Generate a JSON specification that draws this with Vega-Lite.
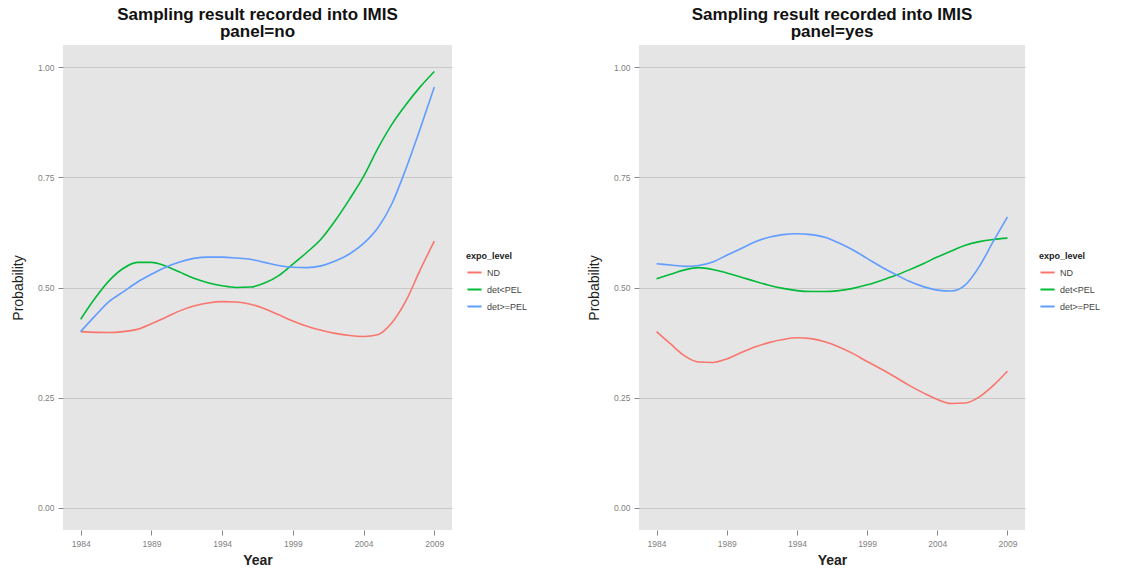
{
  "$schema": "https://vega.github.io/schema/vega-lite/v6.json",
  "background": "white",
  "padding": {"left": 11, "top": 6, "right": 5, "bottom": 2},
  "config": {
    "font": "Liberation Sans",
    "view": {"fill": "#E5E5E5", "stroke": null},
    "axis": {
      "domain": false,
      "tickColor": "#888888",
      "tickSize": 5,
      "labelColor": "#7F7F7F",
      "labelFontSize": 8.5,
      "labelPadding": 4,
      "titleFontSize": 14,
      "titleColor": "#222222",
      "titleFontWeight": "normal"
    },
    "axisY": {"grid": true, "gridColor": "#C8C8C8", "gridWidth": 1, "titlePadding": 12},
    "axisX": {"grid": false, "titleFontWeight": "bold", "titlePadding": 6},
    "legend": {
      "titleFontSize": 9,
      "titleFontWeight": "bold",
      "titleColor": "#222222",
      "titlePadding": 3,
      "labelFontSize": 9,
      "labelColor": "#444444",
      "symbolType": "stroke",
      "symbolStrokeWidth": 2,
      "symbolSize": 200,
      "rowPadding": 3
    },
    "title": {"fontSize": 17, "fontWeight": "bold", "color": "#111111", "anchor": "middle", "offset": 4, "lineHeight": 17}
  },
  "datasets": {
    "curves": [
      {"panel": "no", "expo_level": "ND", "year": 1984, "prob": 0.400},
      {"panel": "no", "expo_level": "ND", "year": 1986, "prob": 0.398},
      {"panel": "no", "expo_level": "ND", "year": 1987, "prob": 0.400},
      {"panel": "no", "expo_level": "ND", "year": 1988, "prob": 0.405},
      {"panel": "no", "expo_level": "ND", "year": 1989, "prob": 0.418},
      {"panel": "no", "expo_level": "ND", "year": 1990, "prob": 0.432},
      {"panel": "no", "expo_level": "ND", "year": 1991, "prob": 0.447},
      {"panel": "no", "expo_level": "ND", "year": 1992, "prob": 0.458},
      {"panel": "no", "expo_level": "ND", "year": 1993, "prob": 0.465},
      {"panel": "no", "expo_level": "ND", "year": 1994, "prob": 0.468},
      {"panel": "no", "expo_level": "ND", "year": 1995, "prob": 0.467},
      {"panel": "no", "expo_level": "ND", "year": 1996, "prob": 0.462},
      {"panel": "no", "expo_level": "ND", "year": 1997, "prob": 0.452},
      {"panel": "no", "expo_level": "ND", "year": 1998, "prob": 0.438},
      {"panel": "no", "expo_level": "ND", "year": 1999, "prob": 0.424},
      {"panel": "no", "expo_level": "ND", "year": 2000, "prob": 0.412},
      {"panel": "no", "expo_level": "ND", "year": 2001, "prob": 0.403},
      {"panel": "no", "expo_level": "ND", "year": 2002, "prob": 0.396},
      {"panel": "no", "expo_level": "ND", "year": 2003, "prob": 0.391},
      {"panel": "no", "expo_level": "ND", "year": 2004, "prob": 0.389},
      {"panel": "no", "expo_level": "ND", "year": 2005, "prob": 0.393},
      {"panel": "no", "expo_level": "ND", "year": 2006, "prob": 0.420},
      {"panel": "no", "expo_level": "ND", "year": 2007, "prob": 0.470},
      {"panel": "no", "expo_level": "ND", "year": 2008, "prob": 0.540},
      {"panel": "no", "expo_level": "ND", "year": 2009, "prob": 0.605},
      {"panel": "no", "expo_level": "det<PEL", "year": 1984, "prob": 0.428},
      {"panel": "no", "expo_level": "det<PEL", "year": 1985, "prob": 0.475},
      {"panel": "no", "expo_level": "det<PEL", "year": 1986, "prob": 0.515},
      {"panel": "no", "expo_level": "det<PEL", "year": 1987, "prob": 0.543},
      {"panel": "no", "expo_level": "det<PEL", "year": 1988, "prob": 0.557},
      {"panel": "no", "expo_level": "det<PEL", "year": 1989, "prob": 0.557},
      {"panel": "no", "expo_level": "det<PEL", "year": 1990, "prob": 0.549},
      {"panel": "no", "expo_level": "det<PEL", "year": 1991, "prob": 0.535},
      {"panel": "no", "expo_level": "det<PEL", "year": 1992, "prob": 0.521},
      {"panel": "no", "expo_level": "det<PEL", "year": 1993, "prob": 0.511},
      {"panel": "no", "expo_level": "det<PEL", "year": 1994, "prob": 0.504},
      {"panel": "no", "expo_level": "det<PEL", "year": 1995, "prob": 0.500},
      {"panel": "no", "expo_level": "det<PEL", "year": 1996, "prob": 0.501},
      {"panel": "no", "expo_level": "det<PEL", "year": 1997, "prob": 0.510},
      {"panel": "no", "expo_level": "det<PEL", "year": 1998, "prob": 0.527},
      {"panel": "no", "expo_level": "det<PEL", "year": 1999, "prob": 0.553},
      {"panel": "no", "expo_level": "det<PEL", "year": 2000, "prob": 0.580},
      {"panel": "no", "expo_level": "det<PEL", "year": 2001, "prob": 0.610},
      {"panel": "no", "expo_level": "det<PEL", "year": 2002, "prob": 0.652},
      {"panel": "no", "expo_level": "det<PEL", "year": 2003, "prob": 0.700},
      {"panel": "no", "expo_level": "det<PEL", "year": 2004, "prob": 0.752},
      {"panel": "no", "expo_level": "det<PEL", "year": 2005, "prob": 0.815},
      {"panel": "no", "expo_level": "det<PEL", "year": 2006, "prob": 0.870},
      {"panel": "no", "expo_level": "det<PEL", "year": 2007, "prob": 0.915},
      {"panel": "no", "expo_level": "det<PEL", "year": 2008, "prob": 0.955},
      {"panel": "no", "expo_level": "det<PEL", "year": 2009, "prob": 0.990},
      {"panel": "no", "expo_level": "det>=PEL", "year": 1984, "prob": 0.400},
      {"panel": "no", "expo_level": "det>=PEL", "year": 1985, "prob": 0.435},
      {"panel": "no", "expo_level": "det>=PEL", "year": 1986, "prob": 0.468},
      {"panel": "no", "expo_level": "det>=PEL", "year": 1987, "prob": 0.490},
      {"panel": "no", "expo_level": "det>=PEL", "year": 1988, "prob": 0.512},
      {"panel": "no", "expo_level": "det>=PEL", "year": 1989, "prob": 0.530},
      {"panel": "no", "expo_level": "det>=PEL", "year": 1990, "prob": 0.546},
      {"panel": "no", "expo_level": "det>=PEL", "year": 1991, "prob": 0.558},
      {"panel": "no", "expo_level": "det>=PEL", "year": 1992, "prob": 0.566},
      {"panel": "no", "expo_level": "det>=PEL", "year": 1993, "prob": 0.569},
      {"panel": "no", "expo_level": "det>=PEL", "year": 1994, "prob": 0.569},
      {"panel": "no", "expo_level": "det>=PEL", "year": 1995, "prob": 0.567},
      {"panel": "no", "expo_level": "det>=PEL", "year": 1996, "prob": 0.564},
      {"panel": "no", "expo_level": "det>=PEL", "year": 1997, "prob": 0.557},
      {"panel": "no", "expo_level": "det>=PEL", "year": 1998, "prob": 0.550},
      {"panel": "no", "expo_level": "det>=PEL", "year": 1999, "prob": 0.546},
      {"panel": "no", "expo_level": "det>=PEL", "year": 2000, "prob": 0.545},
      {"panel": "no", "expo_level": "det>=PEL", "year": 2001, "prob": 0.549},
      {"panel": "no", "expo_level": "det>=PEL", "year": 2002, "prob": 0.560},
      {"panel": "no", "expo_level": "det>=PEL", "year": 2003, "prob": 0.576},
      {"panel": "no", "expo_level": "det>=PEL", "year": 2004, "prob": 0.600},
      {"panel": "no", "expo_level": "det>=PEL", "year": 2005, "prob": 0.635},
      {"panel": "no", "expo_level": "det>=PEL", "year": 2006, "prob": 0.690},
      {"panel": "no", "expo_level": "det>=PEL", "year": 2007, "prob": 0.770},
      {"panel": "no", "expo_level": "det>=PEL", "year": 2008, "prob": 0.860},
      {"panel": "no", "expo_level": "det>=PEL", "year": 2009, "prob": 0.955},
      {"panel": "yes", "expo_level": "ND", "year": 1984, "prob": 0.400},
      {"panel": "yes", "expo_level": "ND", "year": 1985, "prob": 0.372},
      {"panel": "yes", "expo_level": "ND", "year": 1986, "prob": 0.345},
      {"panel": "yes", "expo_level": "ND", "year": 1987, "prob": 0.331},
      {"panel": "yes", "expo_level": "ND", "year": 1988, "prob": 0.330},
      {"panel": "yes", "expo_level": "ND", "year": 1989, "prob": 0.338},
      {"panel": "yes", "expo_level": "ND", "year": 1990, "prob": 0.352},
      {"panel": "yes", "expo_level": "ND", "year": 1991, "prob": 0.365},
      {"panel": "yes", "expo_level": "ND", "year": 1992, "prob": 0.375},
      {"panel": "yes", "expo_level": "ND", "year": 1993, "prob": 0.382},
      {"panel": "yes", "expo_level": "ND", "year": 1994, "prob": 0.386},
      {"panel": "yes", "expo_level": "ND", "year": 1995, "prob": 0.384},
      {"panel": "yes", "expo_level": "ND", "year": 1996, "prob": 0.377},
      {"panel": "yes", "expo_level": "ND", "year": 1997, "prob": 0.365},
      {"panel": "yes", "expo_level": "ND", "year": 1998, "prob": 0.350},
      {"panel": "yes", "expo_level": "ND", "year": 1999, "prob": 0.332},
      {"panel": "yes", "expo_level": "ND", "year": 2000, "prob": 0.315},
      {"panel": "yes", "expo_level": "ND", "year": 2001, "prob": 0.297},
      {"panel": "yes", "expo_level": "ND", "year": 2002, "prob": 0.278},
      {"panel": "yes", "expo_level": "ND", "year": 2003, "prob": 0.261},
      {"panel": "yes", "expo_level": "ND", "year": 2004, "prob": 0.246},
      {"panel": "yes", "expo_level": "ND", "year": 2005, "prob": 0.237},
      {"panel": "yes", "expo_level": "ND", "year": 2006, "prob": 0.238},
      {"panel": "yes", "expo_level": "ND", "year": 2007, "prob": 0.252},
      {"panel": "yes", "expo_level": "ND", "year": 2008, "prob": 0.278},
      {"panel": "yes", "expo_level": "ND", "year": 2009, "prob": 0.310},
      {"panel": "yes", "expo_level": "det<PEL", "year": 1984, "prob": 0.520},
      {"panel": "yes", "expo_level": "det<PEL", "year": 1985, "prob": 0.530},
      {"panel": "yes", "expo_level": "det<PEL", "year": 1986, "prob": 0.540},
      {"panel": "yes", "expo_level": "det<PEL", "year": 1987, "prob": 0.545},
      {"panel": "yes", "expo_level": "det<PEL", "year": 1988, "prob": 0.541},
      {"panel": "yes", "expo_level": "det<PEL", "year": 1989, "prob": 0.533},
      {"panel": "yes", "expo_level": "det<PEL", "year": 1990, "prob": 0.524},
      {"panel": "yes", "expo_level": "det<PEL", "year": 1991, "prob": 0.514},
      {"panel": "yes", "expo_level": "det<PEL", "year": 1992, "prob": 0.505},
      {"panel": "yes", "expo_level": "det<PEL", "year": 1993, "prob": 0.498},
      {"panel": "yes", "expo_level": "det<PEL", "year": 1994, "prob": 0.493},
      {"panel": "yes", "expo_level": "det<PEL", "year": 1995, "prob": 0.491},
      {"panel": "yes", "expo_level": "det<PEL", "year": 1996, "prob": 0.491},
      {"panel": "yes", "expo_level": "det<PEL", "year": 1997, "prob": 0.493},
      {"panel": "yes", "expo_level": "det<PEL", "year": 1998, "prob": 0.498},
      {"panel": "yes", "expo_level": "det<PEL", "year": 1999, "prob": 0.506},
      {"panel": "yes", "expo_level": "det<PEL", "year": 2000, "prob": 0.516},
      {"panel": "yes", "expo_level": "det<PEL", "year": 2001, "prob": 0.527},
      {"panel": "yes", "expo_level": "det<PEL", "year": 2002, "prob": 0.540},
      {"panel": "yes", "expo_level": "det<PEL", "year": 2003, "prob": 0.554},
      {"panel": "yes", "expo_level": "det<PEL", "year": 2004, "prob": 0.569},
      {"panel": "yes", "expo_level": "det<PEL", "year": 2005, "prob": 0.583},
      {"panel": "yes", "expo_level": "det<PEL", "year": 2006, "prob": 0.596},
      {"panel": "yes", "expo_level": "det<PEL", "year": 2007, "prob": 0.604},
      {"panel": "yes", "expo_level": "det<PEL", "year": 2008, "prob": 0.609},
      {"panel": "yes", "expo_level": "det<PEL", "year": 2009, "prob": 0.612},
      {"panel": "yes", "expo_level": "det>=PEL", "year": 1984, "prob": 0.554},
      {"panel": "yes", "expo_level": "det>=PEL", "year": 1985, "prob": 0.551},
      {"panel": "yes", "expo_level": "det>=PEL", "year": 1986, "prob": 0.548},
      {"panel": "yes", "expo_level": "det>=PEL", "year": 1987, "prob": 0.550},
      {"panel": "yes", "expo_level": "det>=PEL", "year": 1988, "prob": 0.558},
      {"panel": "yes", "expo_level": "det>=PEL", "year": 1989, "prob": 0.573},
      {"panel": "yes", "expo_level": "det>=PEL", "year": 1990, "prob": 0.588},
      {"panel": "yes", "expo_level": "det>=PEL", "year": 1991, "prob": 0.603},
      {"panel": "yes", "expo_level": "det>=PEL", "year": 1992, "prob": 0.614},
      {"panel": "yes", "expo_level": "det>=PEL", "year": 1993, "prob": 0.620},
      {"panel": "yes", "expo_level": "det>=PEL", "year": 1994, "prob": 0.622},
      {"panel": "yes", "expo_level": "det>=PEL", "year": 1995, "prob": 0.620},
      {"panel": "yes", "expo_level": "det>=PEL", "year": 1996, "prob": 0.614},
      {"panel": "yes", "expo_level": "det>=PEL", "year": 1997, "prob": 0.601},
      {"panel": "yes", "expo_level": "det>=PEL", "year": 1998, "prob": 0.585},
      {"panel": "yes", "expo_level": "det>=PEL", "year": 1999, "prob": 0.566},
      {"panel": "yes", "expo_level": "det>=PEL", "year": 2000, "prob": 0.547},
      {"panel": "yes", "expo_level": "det>=PEL", "year": 2001, "prob": 0.530},
      {"panel": "yes", "expo_level": "det>=PEL", "year": 2002, "prob": 0.514},
      {"panel": "yes", "expo_level": "det>=PEL", "year": 2003, "prob": 0.502},
      {"panel": "yes", "expo_level": "det>=PEL", "year": 2004, "prob": 0.494},
      {"panel": "yes", "expo_level": "det>=PEL", "year": 2005, "prob": 0.492},
      {"panel": "yes", "expo_level": "det>=PEL", "year": 2006, "prob": 0.506},
      {"panel": "yes", "expo_level": "det>=PEL", "year": 2007, "prob": 0.548},
      {"panel": "yes", "expo_level": "det>=PEL", "year": 2008, "prob": 0.605},
      {"panel": "yes", "expo_level": "det>=PEL", "year": 2009, "prob": 0.660}
    ]
  },
  "spacing": 59,
  "resolve": {"legend": {"color": "independent"}},
  "hconcat": [
    {
      "title": {"text": ["Sampling result recorded into IMIS", "panel=no"]},
      "width": 389,
      "height": 485,
      "data": {"name": "curves"},
      "transform": [{"filter": "datum.panel === 'no'"}],
      "mark": {"type": "line", "interpolate": "monotone", "strokeWidth": 1.6},
      "encoding": {
        "x": {"field": "year", "type": "quantitative", "title": "Year",
              "scale": {"domain": [1982.75, 2010.25], "nice": false, "zero": false},
              "axis": {"values": [1984, 1989, 1994, 1999, 2004, 2009], "format": "d"}},
        "y": {"field": "prob", "type": "quantitative", "title": "Probability",
              "scale": {"domain": [-0.05, 1.05], "nice": false, "zero": false},
              "axis": {"values": [0, 0.25, 0.5, 0.75, 1], "format": ".2f"}},
        "color": {"field": "expo_level", "type": "nominal", "title": "expo_level",
                  "scale": {"domain": ["ND", "det<PEL", "det>=PEL"], "range": ["#F8766D", "#00BA38", "#619CFF"]},
                  "legend": {"orient": "none", "legendX": 403, "legendY": 207}}
      }
    },
    {
      "title": {"text": ["Sampling result recorded into IMIS", "panel=yes"]},
      "width": 386,
      "height": 485,
      "data": {"name": "curves"},
      "transform": [{"filter": "datum.panel === 'yes'"}],
      "mark": {"type": "line", "interpolate": "monotone", "strokeWidth": 1.6},
      "encoding": {
        "x": {"field": "year", "type": "quantitative", "title": "Year",
              "scale": {"domain": [1982.75, 2010.25], "nice": false, "zero": false},
              "axis": {"values": [1984, 1989, 1994, 1999, 2004, 2009], "format": "d"}},
        "y": {"field": "prob", "type": "quantitative", "title": "Probability",
              "scale": {"domain": [-0.05, 1.05], "nice": false, "zero": false},
              "axis": {"values": [0, 0.25, 0.5, 0.75, 1], "format": ".2f"}},
        "color": {"field": "expo_level", "type": "nominal", "title": "expo_level",
                  "scale": {"domain": ["ND", "det<PEL", "det>=PEL"], "range": ["#F8766D", "#00BA38", "#619CFF"]},
                  "legend": {"orient": "none", "legendX": 400, "legendY": 207}}
      }
    }
  ]
}
